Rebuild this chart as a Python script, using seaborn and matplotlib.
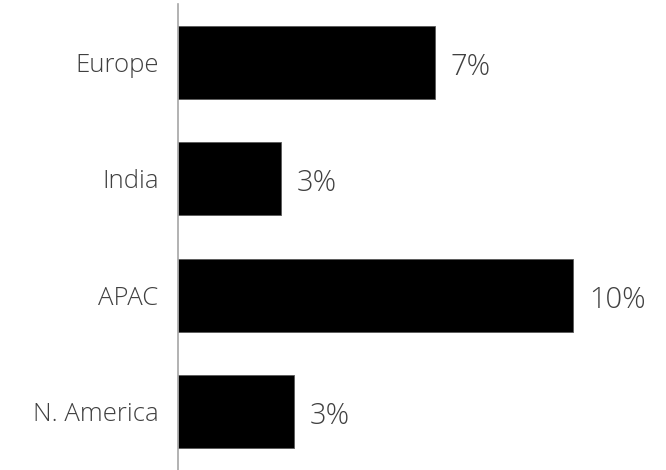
import matplotlib
matplotlib.use("Agg")
import matplotlib.pyplot as plt
import seaborn as sns
import pandas as pd

regions = ["Europe", "India", "APAC", "N. America"]
growth = [6.51, 2.6, 10.0, 2.94]

df = pd.DataFrame({"region": regions, "growth": growth})

sns.set_style("white")
plt.rcParams["font.family"] = ["Open Sans", "DejaVu Sans"]

fig = plt.figure(figsize=(6.66, 4.70), dpi=100)
ax = fig.add_axes([178 / 666, 0.0, 488 / 666, 466 / 470])

sns.barplot(data=df, y="region", x="growth", orient="h", color="black",
            width=0.63, edgecolor="#595959", linewidth=0.6, ax=ax, saturation=1)

ax.set_xlim(0, 488 / 39.5)
ax.set_ylim(3.5, -0.5)

for i, v in enumerate(growth):
    ax.text(v + 0.4, i + 0.04, f"{v:.0f}%", va="center", ha="left",
            fontsize=21, color="#404040", fontweight="light")

ax.set_xlabel("")
ax.set_ylabel("")
ax.set_xticks([])
ax.tick_params(axis="y", length=0, pad=14, labelsize=18.5, labelcolor="#404040")
for lab in ax.get_yticklabels():
    lab.set_fontweight("light")

for side in ["top", "right", "bottom"]:
    ax.spines[side].set_visible(False)
ax.spines["left"].set_color("#a6a6a6")
ax.spines["left"].set_linewidth(1.2)

fig.savefig("out.png", dpi=100)
